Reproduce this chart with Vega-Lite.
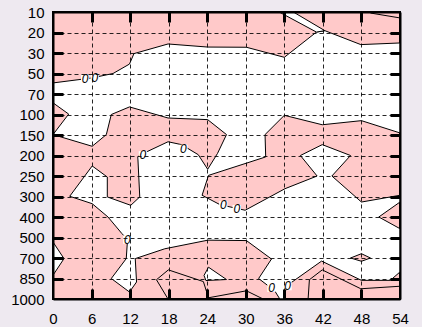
{
  "$schema": "https://vega.github.io/schema/vega-lite/v6.json",
  "width": 347,
  "height": 287,
  "autosize": "none",
  "padding": {"left": 53, "top": 12, "right": 22, "bottom": 28},
  "background": "#eee9f0",
  "config": {
    "view": {"fill": "#ffc9c9", "stroke": "black", "strokeWidth": 2},
    "axis": {"labelFont": "Liberation Sans", "labelFontSize": 15, "labelColor": "black", "title": null}
  },
  "datasets": {
    "white": [
      {"p":"W","k":1,"x":0,"lev":3.46},{"p":"W","k":2,"x":6,"lev":3.22},{"p":"W","k":3,"x":9.34,"lev":3.0},{"p":"W","k":4,"x":11.9,"lev":2.54},{"p":"W","k":5,"x":12.6,"lev":2.03},{"p":"W","k":6,"x":17.9,"lev":1.56},{"p":"W","k":7,"x":24.07,"lev":1.71},{"p":"W","k":8,"x":30.1,"lev":1.72},{"p":"W","k":9,"x":36,"lev":2.21},{"p":"W","k":10,"x":41.0,"lev":0.98},
      {"p":"W","k":11,"x":42.3,"lev":0.91},{"p":"W","k":12,"x":47.9,"lev":1.59},{"p":"W","k":13,"x":54,"lev":1.51},{"p":"W","k":14,"x":54,"lev":5.9},{"p":"W","k":15,"x":48,"lev":5.3},{"p":"W","k":16,"x":41.9,"lev":5.5},{"p":"W","k":17,"x":36,"lev":5.04},{"p":"W","k":18,"x":33,"lev":5.98},{"p":"W","k":19,"x":33.1,"lev":7.07},{"p":"W","k":20,"x":24.2,"lev":7.97},
      {"p":"W","k":21,"x":23.2,"lev":8.94},{"p":"W","k":22,"x":26,"lev":9.4},{"p":"W","k":23,"x":29.9,"lev":9.67},{"p":"W","k":24,"x":36.1,"lev":8.62},{"p":"W","k":25,"x":41.1,"lev":8.0},{"p":"W","k":26,"x":38.5,"lev":7.0},{"p":"W","k":27,"x":41.9,"lev":6.47},{"p":"W","k":28,"x":46.3,"lev":7.0},{"p":"W","k":29,"x":43.4,"lev":8.0},{"p":"W","k":30,"x":48,"lev":9.27},
      {"p":"W","k":31,"x":54,"lev":8.94},{"p":"W","k":32,"x":54,"lev":9.27},{"p":"W","k":33,"x":50.7,"lev":10.0},{"p":"W","k":34,"x":54,"lev":10.57},{"p":"W","k":35,"x":54,"lev":12.68},{"p":"W","k":36,"x":52.5,"lev":13.09},{"p":"W","k":37,"x":48,"lev":13.09},{"p":"W","k":38,"x":41.8,"lev":12.15},{"p":"W","k":39,"x":36.4,"lev":13.35},{"p":"W","k":40,"x":35.9,"lev":14},
      {"p":"W","k":41,"x":35.3,"lev":14},{"p":"W","k":42,"x":34.5,"lev":13.6},{"p":"W","k":43,"x":32,"lev":13.0},{"p":"W","k":44,"x":34,"lev":12.05},{"p":"W","k":45,"x":30.1,"lev":11.15},{"p":"W","k":46,"x":24.1,"lev":11.13},{"p":"W","k":47,"x":17.4,"lev":11.55},{"p":"W","k":48,"x":12.8,"lev":12.03},{"p":"W","k":49,"x":13,"lev":13.17},{"p":"W","k":50,"x":11.9,"lev":13.66},
      {"p":"W","k":51,"x":9.07,"lev":13.0},{"p":"W","k":52,"x":11.4,"lev":12.03},{"p":"W","k":53,"x":11.6,"lev":11.1},{"p":"W","k":54,"x":10.7,"lev":10.8},{"p":"W","k":55,"x":8.56,"lev":10.0},{"p":"W","k":56,"x":6.1,"lev":9.35},{"p":"W","k":57,"x":2.6,"lev":8.99},{"p":"W","k":58,"x":6.1,"lev":7.51},{"p":"W","k":59,"x":8.45,"lev":8.05},{"p":"W","k":60,"x":8.45,"lev":9.02},
      {"p":"W","k":61,"x":12.1,"lev":9.43},{"p":"W","k":62,"x":13.5,"lev":9.02},{"p":"W","k":63,"x":13.2,"lev":7.07},{"p":"W","k":64,"x":13.5,"lev":6.98},{"p":"W","k":65,"x":17.9,"lev":6.33},{"p":"W","k":66,"x":20,"lev":6.47},{"p":"W","k":67,"x":22.6,"lev":6.96},{"p":"W","k":68,"x":24.07,"lev":7.67},{"p":"W","k":69,"x":25.6,"lev":6.9},{"p":"W","k":70,"x":27,"lev":5.98},
      {"p":"W","k":71,"x":24.07,"lev":5.25},{"p":"W","k":72,"x":17.9,"lev":5.17},{"p":"W","k":73,"x":11.9,"lev":4.63},{"p":"W","k":74,"x":9.07,"lev":5.0},{"p":"W","k":75,"x":8.3,"lev":5.98},{"p":"W","k":76,"x":6.1,"lev":6.55},{"p":"W","k":77,"x":0,"lev":5.98},{"p":"W","k":78,"x":2.44,"lev":4.98},{"p":"W","k":79,"x":0,"lev":4.43},{"p":"W","k":80,"x":0,"lev":3.46},
      {"p":"wedge","k":1,"x":35.2,"lev":0},{"p":"wedge","k":2,"x":37.4,"lev":0},{"p":"wedge","k":3,"x":42.3,"lev":0.91},{"p":"wedge","k":4,"x":41.0,"lev":0.98},{"p":"wedge","k":5,"x":35.2,"lev":0},
      {"p":"left","k":1,"x":0,"lev":11.22},{"p":"left","k":2,"x":1.71,"lev":12.03},{"p":"left","k":3,"x":0,"lev":12.84},{"p":"left","k":4,"x":0,"lev":11.22},
      {"p":"island","k":1,"x":24.2,"lev":12.45},{"p":"island","k":2,"x":27.0,"lev":13.05},{"p":"island","k":3,"x":23.8,"lev":13.1},{"p":"island","k":4,"x":23.5,"lev":12.85},{"p":"island","k":5,"x":24.2,"lev":12.45}
    ],
    "pink": [
      {"p":"diamond","k":1,"x":46.3,"lev":12.0},{"p":"diamond","k":2,"x":48,"lev":11.79},{"p":"diamond","k":3,"x":49.4,"lev":12.0},{"p":"diamond","k":4,"x":48,"lev":12.16},{"p":"diamond","k":5,"x":46.3,"lev":12.0}
    ],
    "lines": [
      {"p":"L1","k":1,"x":17.9,"lev":14},{"p":"L1","k":2,"x":16.1,"lev":13.06},{"p":"L1","k":3,"x":17.95,"lev":12.58},{"p":"L1","k":4,"x":23.4,"lev":13.15},{"p":"L1","k":5,"x":24.2,"lev":13.94},{"p":"L1","k":6,"x":30.1,"lev":13.6},{"p":"L1","k":7,"x":32.7,"lev":14},
      {"p":"L2","k":1,"x":39.7,"lev":14},{"p":"L2","k":2,"x":39.9,"lev":13.06},{"p":"L2","k":3,"x":41.9,"lev":12.58},{"p":"L2","k":4,"x":47.9,"lev":13.5},{"p":"L2","k":5,"x":53.9,"lev":13.38},{"p":"L2","k":6,"x":54,"lev":13.38},
      {"p":"L3","k":1,"x":49.4,"lev":0.05},{"p":"L3","k":2,"x":54,"lev":0.29}
    ],
    "labels": [
      {"x":5.0,"lev":3.27,"t":"0"},{"x":6.5,"lev":3.22,"t":"0"},
      {"x":14.0,"lev":6.99,"t":"0"},{"x":20.3,"lev":6.68,"t":"0"},
      {"x":26.5,"lev":9.43,"t":"0"},{"x":28.6,"lev":9.62,"t":"0"},
      {"x":11.56,"lev":11.1,"t":"0"},
      {"x":34.0,"lev":13.45,"t":"0"},{"x":36.5,"lev":13.37,"t":"0"}
    ]
  },
  "resolve": {"axis": {"x": "independent", "y": "independent"}},
  "layer": [
    {
      "data": {"name": "white"},
      "mark": {"type": "line", "fill": "white", "stroke": "black", "strokeWidth": 1, "strokeJoin": "miter"},
      "encoding": {
        "x": {"field": "x", "type": "quantitative", "scale": {"domain": [0, 54], "nice": false, "zero": false},
          "axis": {"orient": "bottom", "values": [0,6,12,18,24,30,36,42,48,54], "grid": true, "gridDash": [4,3], "gridColor": "black", "gridWidth": 1, "gridOpacity": 0.85,
            "ticks": false, "domain": true, "domainColor": "black", "domainWidth": 2, "labelPadding": 12, "labelFlush": false, "zindex": 1}},
        "y": {"field": "lev", "type": "quantitative", "scale": {"domain": [0, 14], "reverse": true, "nice": false, "zero": false},
          "axis": {"orient": "left", "values": [0,1,2,3,4,5,6,7,8,9,10,11,12,13,14],
            "labelExpr": "['10','20','30','50','70','100','150','200','250','300','400','500','700','850','1000'][datum.value]",
            "grid": true, "gridDash": [4,3], "gridColor": "black", "gridWidth": 1, "gridOpacity": 0.85,
            "ticks": false, "domain": true, "domainColor": "black", "domainWidth": 2, "labelPadding": 9, "labelFlush": false, "zindex": 1}},
        "detail": {"field": "p"},
        "order": {"field": "k", "type": "quantitative"}
      }
    },
    {
      "data": {"name": "pink"},
      "mark": {"type": "line", "fill": "#ffc9c9", "stroke": "black", "strokeWidth": 1},
      "encoding": {
        "x": {"field": "x", "type": "quantitative",
          "axis": {"orient": "top", "values": [6,12,18,24,30,36,42,48], "labels": false, "grid": false, "ticks": true, "tickSize": -10, "tickWidth": 3, "tickColor": "black",
            "domain": true, "domainColor": "black", "domainWidth": 2, "zindex": 1}},
        "y": {"field": "lev", "type": "quantitative",
          "axis": {"orient": "right", "values": [1,2,3,4,5,6,7,8,9,10,11,12,13], "labels": false, "grid": false, "ticks": true, "tickSize": -10, "tickWidth": 3, "tickColor": "black",
            "domain": true, "domainColor": "black", "domainWidth": 2, "zindex": 1}},
        "detail": {"field": "p"},
        "order": {"field": "k", "type": "quantitative"}
      }
    },
    {
      "data": {"name": "lines"},
      "mark": {"type": "line", "stroke": "black", "strokeWidth": 1},
      "encoding": {
        "x": {"field": "x", "type": "quantitative",
          "axis": {"orient": "bottom", "values": [6,12,18,24,30,36,42,48], "labels": false, "grid": false, "ticks": true, "tickSize": -10, "tickWidth": 3, "tickColor": "black", "domain": false, "zindex": 1}},
        "y": {"field": "lev", "type": "quantitative",
          "axis": {"orient": "left", "values": [1,2,3,4,5,6,7,8,9,10,11,12,13], "labels": false, "grid": false, "ticks": true, "tickSize": -10, "tickWidth": 3, "tickColor": "black", "domain": false, "zindex": 1}},
        "detail": {"field": "p"},
        "order": {"field": "k", "type": "quantitative"}
      }
    },
    {
      "data": {"name": "labels"},
      "mark": {"type": "point", "shape": "square", "size": 70, "filled": true, "color": "white", "opacity": 1, "strokeWidth": 0},
      "encoding": {
        "x": {"field": "x", "type": "quantitative", "axis": null},
        "y": {"field": "lev", "type": "quantitative", "axis": null}
      }
    },
    {
      "data": {"name": "labels"},
      "mark": {"type": "text", "font": "Liberation Sans", "fontSize": 12, "fontStyle": "italic", "color": "black"},
      "encoding": {
        "x": {"field": "x", "type": "quantitative", "axis": null},
        "y": {"field": "lev", "type": "quantitative", "axis": null},
        "text": {"field": "t"}
      }
    }
  ]
}
